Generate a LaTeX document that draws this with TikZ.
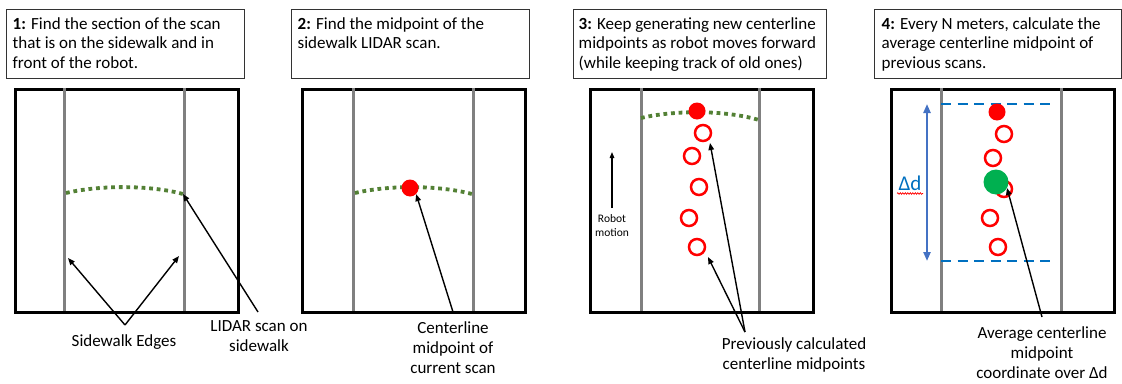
\documentclass[tikz,border=0pt]{standalone}
\usepackage{fontspec}
\setmainfont{Carlito}
\usetikzlibrary{arrows.meta,decorations.pathmorphing}
\definecolor{scangreen}{HTML}{538135}
\definecolor{avggreen}{HTML}{00B050}
\definecolor{dashblue}{HTML}{0070C0}
\definecolor{arrblue}{HTML}{4472C4}
\definecolor{edgegray}{HTML}{808080}
\tikzset{
  txtbox/.style={draw=black!80, line width=0.9, minimum width=#1, minimum height=69, inner sep=0, anchor=north west},
  txt/.style={anchor=north west, align=left, inner sep=0, font=\fontsize{17}{19.5}\selectfont},
  lbl/.style={align=center, inner sep=0, font=\fontsize{17}{20}\selectfont},
  field/.style={draw=black, line width=3.2, minimum width=223, minimum height=223, inner sep=0, anchor=north west},
  edge/.style={draw=edgegray, line width=3},
  scan/.style={draw=scangreen, line width=3.8, dash pattern=on 3.8 off 3.8},
  pointer/.style={draw=black, line width=1.4, -{Triangle[length=7,width=5.5]}},
  newpt/.style={circle, fill=red, minimum size=17, inner sep=0},
  oldpt/.style={circle, draw=red, line width=2.5, minimum size=16, inner sep=0},
  avgpt/.style={circle, fill=avggreen, minimum size=25, inner sep=0},
  bound/.style={draw=dashblue, line width=2.8, dash pattern=on 10 off 6.5},
}
\begin{document}
\begin{tikzpicture}[x=1pt,y=-1pt]
\useasboundingbox (0,0) rectangle (1122,383);
\fill[white] (0,0) rectangle (1122,383);

% ---------------- Panel 1 ----------------
\node[txtbox=238] (b1) at (6,9) {};
\node[txt] (t1) at (12.5,17) {\textbf{1:} Find the section of the scan\\that is on the sidewalk and in\\front of the robot.};
\node[field] (f1) at (14,88) {};
\coordinate (e1lt) at (64,88); \coordinate (e1lb) at (64,311);
\coordinate (e1rt) at (184,88); \coordinate (e1rb) at (184,311);
\draw[edge] (e1lt) -- (e1lb);
\draw[edge] (e1rt) -- (e1rb);
\coordinate (s1a) at (66,193); \coordinate (s1b) at (183,194);
\draw[scan] (s1a) .. controls (100,185) and (150,185) .. (s1b);
\node[lbl] (l1) at (124,342) {Sidewalk Edges};
\coordinate (l1p) at (125,325);
\coordinate (e1ltip) at (68,258); \coordinate (e1rtip) at (179,256);
\draw[pointer] (l1p) -- (e1ltip);
\draw[pointer] (l1p) -- (e1rtip);
\node[lbl] (l2) at (259,336) {LIDAR scan on\\sidewalk};
\coordinate (l2p) at (258,312);
\draw[pointer] (l2p) -- (s1b);

% ---------------- Panel 2 ----------------
\node[txtbox=238] (b2) at (291,9) {};
\node[txt] (t2) at (297.5,17) {\textbf{2:} Find the midpoint of the\\sidewalk LIDAR scan.};
\node[field] (f2) at (301,88) {};
\coordinate (e2lt) at (353,88); \coordinate (e2lb) at (353,311);
\coordinate (e2rt) at (473,88); \coordinate (e2rb) at (473,311);
\draw[edge] (e2lt) -- (e2lb);
\draw[edge] (e2rt) -- (e2rb);
\coordinate (s2a) at (355,193); \coordinate (s2b) at (472,194);
\draw[scan] (s2a) .. controls (389,185) and (438,185) .. (s2b);
\node[newpt] (m2) at (410,188) {};
\node[lbl] (l3) at (453,348) {Centerline\\midpoint of\\current scan};
\coordinate (l3p) at (453,312);
\draw[pointer] (l3p) -- (m2.south east);

% ---------------- Panel 3 ----------------
\node[txtbox=253] (b3) at (573,9) {};
\node[txt] (t3) at (578.5,17) {\textbf{3:} Keep generating new centerline\\midpoints as robot moves forward\\(while keeping track of old ones)};
\node[field] (f3) at (589,88) {};
\coordinate (e3lt) at (641,88); \coordinate (e3lb) at (641,311);
\coordinate (e3rt) at (759,88); \coordinate (e3rb) at (759,311);
\draw[edge] (e3lt) -- (e3lb);
\draw[edge] (e3rt) -- (e3rb);
\coordinate (s3a) at (641,118); \coordinate (s3b) at (759,120);
\draw[scan] (s3a) .. controls (675,110) and (725,110) .. (s3b);
\node[newpt] (m3) at (697,111) {};
\node[oldpt] (o31) at (703,133) {};
\node[oldpt] (o32) at (692,156) {};
\node[oldpt] (o33) at (699,187) {};
\node[oldpt] (o34) at (689,218) {};
\node[oldpt] (o35) at (697,247) {};
\coordinate (rmb) at (612,208); \coordinate (rmt) at (612,152);
\draw[draw=black, line width=1.3, -{Triangle[length=6,width=4.5]}] (rmb) -- (rmt);
\node[align=center, inner sep=0, font=\fontsize{11.5}{14}\selectfont] (rm) at (612,226) {Robot\\motion};
\node[lbl] (l4) at (794,355) {Previously calculated\\centerline midpoints};
\coordinate (l4p) at (745,332);
\coordinate (o31tip) at (710,143); \coordinate (o35tip) at (708,257);
\draw[pointer] (l4p) -- (o31tip);
\draw[pointer] (l4p) -- (o35tip);

% ---------------- Panel 4 ----------------
\node[txtbox=247] (b4) at (874,9) {};
\node[txt] (t4) at (881.5,17) {\textbf{4:} Every N meters, calculate the\\average centerline midpoint of\\previous scans.};
\node[field] (f4) at (890,88) {};
\coordinate (e4lt) at (941,88); \coordinate (e4lb) at (941,311);
\coordinate (e4rt) at (1061,88); \coordinate (e4rb) at (1061,311);
\draw[edge] (e4lt) -- (e4lb);
\draw[edge] (e4rt) -- (e4rb);
\coordinate (d4ta) at (941,104); \coordinate (d4tb) at (1053,104);
\coordinate (d4ba) at (941,261); \coordinate (d4bb) at (1053,261);
\draw[bound] (d4ta) -- (d4tb);
\draw[bound] (d4ba) -- (d4bb);
\coordinate (dat) at (927,104); \coordinate (dab) at (927,261);
\draw[draw=arrblue, line width=2.2, {Triangle[length=9,width=7]}-{Triangle[length=9,width=7]}] (dat) -- (dab);
\node[inner sep=0, text=dashblue, font=\fontsize{21}{22}\selectfont] (dd) at (910,183) {Δd};
\coordinate (ula) at (897,193.5); \coordinate (ulb) at (923,193.5);
\draw[red, line width=0.7, decorate, decoration={snake, amplitude=0.8, segment length=2.5}] (ula) -- (ulb);
\node[newpt] (m4) at (997,112) {};
\node[oldpt] (o41) at (1004,134) {};
\node[oldpt] (o42) at (993,158) {};
\node[oldpt] (o43) at (1004,189) {};
\node[oldpt] (o44) at (990,218) {};
\node[oldpt] (o45) at (998,247) {};
\node[avgpt] (avg) at (996,182) {};
\node[lbl] (l5) at (1042,353) {Average centerline\\midpoint\\coordinate over Δd};
\coordinate (l5p) at (1042,317);
\coordinate (avgtip) at (1007,188);
\draw[pointer] (l5p) -- (avgtip);
\end{tikzpicture}
\end{document}
